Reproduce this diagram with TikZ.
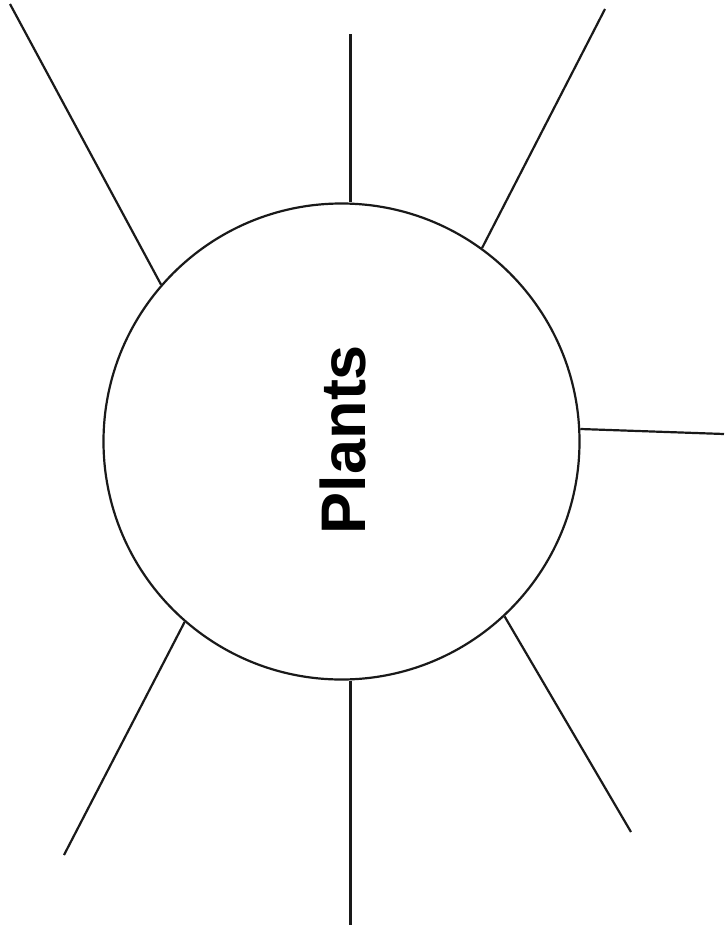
\documentclass[tikz,border=0pt]{standalone}
\usepackage{fontspec}
\setmainfont{Liberation Sans}
\usetikzlibrary{calc}

\begin{document}
\begin{tikzpicture}[x=1pt,y=-1pt,
		spoke/.style={line width=2.2pt, color=black!90}]
		%%%%% START %%%%%
		
		\useasboundingbox (0, 0) rectangle (724, 932);
		
		\node[circle, draw, spoke, minimum size=476pt, inner sep=0pt] (plants) at (341.5, 441.5) {};
		\node[rotate=90, inner sep=0pt, font=\bfseries\fontsize{63}{63}\selectfont] (title) at (342.5, 439.5) {Plants};
		
		\coordinate (tl) at (10, 4);
		\coordinate (tt) at (350.5, 34);
		\coordinate (tr) at (605, 9);
		\coordinate (rr) at (724, 434);
		\coordinate (br) at (631, 832);
		\coordinate (bb) at (350.5, 925);
		\coordinate (bl) at (64, 855);
		
		\draw[spoke] (plants.139) -- (tl);
		\draw[spoke] (plants.north -| tt) -- (tt);
		\draw[spoke] (plants.54.1) -- (tr);
		\draw[spoke] (plants.3.25) -- (rr);
		\draw[spoke] (plants.-47.9) -- (br);
		\draw[spoke] (plants.south -| bb) -- (bb);
		\draw[spoke] (plants.-131.1) -- (bl);
		
		%%%%% END %%%%%
\end{tikzpicture}
\end{document}
